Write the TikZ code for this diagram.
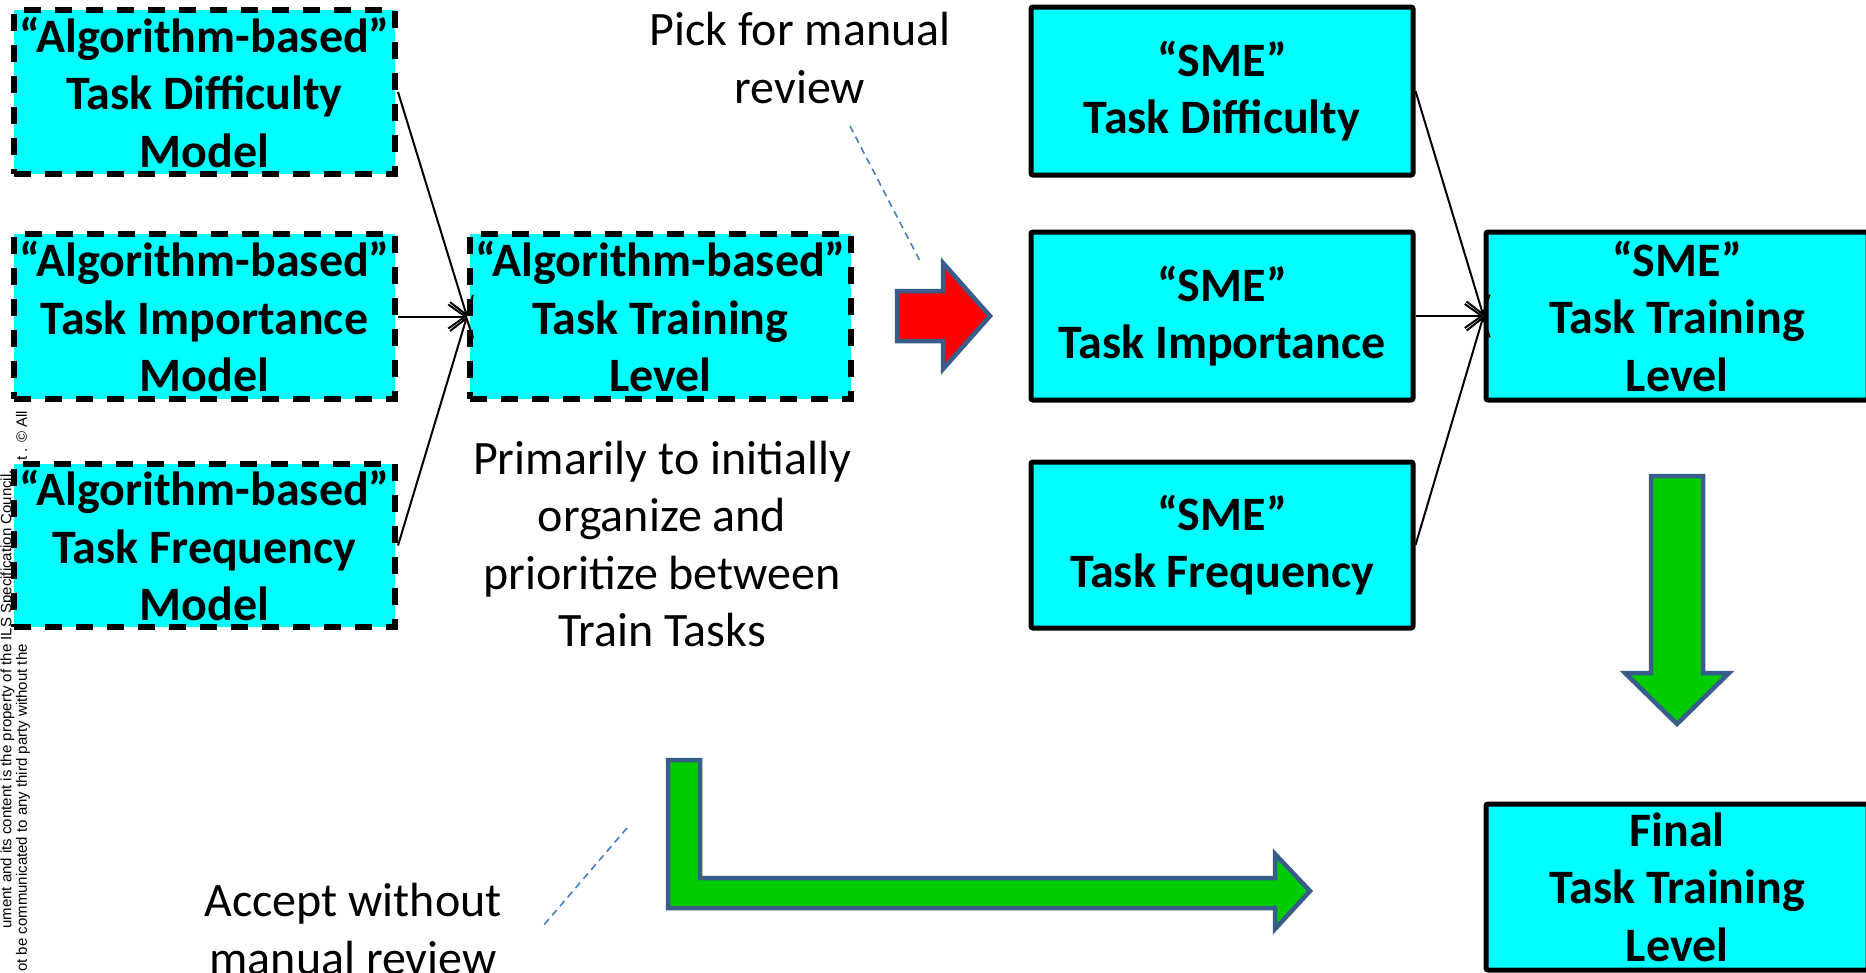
\documentclass[tikz,border=0pt]{standalone}
\usepackage{fontspec}
\setmainfont{Carlito}
\newfontfamily\notefont{Liberation Sans}
\usetikzlibrary{arrows.meta}

\begin{document}
\begin{tikzpicture}[x=1pt,y=-1pt,
    algobox/.style={shape=rectangle,draw,line width=6pt,dash pattern=on 17pt off 14pt,fill=boxcyan,minimum width=381pt,inner sep=0pt,align=center,font=\bfseries\fontsize{48}{57.5}\selectfont},
    smebox/.style={shape=rectangle,draw,line width=5pt,rounded corners=2pt,fill=boxcyan,minimum width=382pt,inner sep=0pt,align=center,font=\bfseries\fontsize{48}{57.5}\selectfont},
    note/.style={align=center,inner sep=0pt,font=\fontsize{48}{57.5}\selectfont},
    link/.style={-{Straight Barb[length=17pt,width=24pt]},line width=2pt},
    callout/.style={draw=calloutblue,line width=1.6pt,dash pattern=on 7pt off 5pt},
    blockarrow/.style={draw=arrowedge,line width=4.5pt,line join=miter},
    legal/.style={rotate=90,inner sep=0pt,font=\notefont\fontsize{15}{15}\selectfont}]
    \definecolor{boxcyan}{RGB}{0,255,255}
    \definecolor{arrowgreen}{RGB}{0,204,0}
    \definecolor{arrowred}{RGB}{255,0,0}
    \definecolor{arrowedge}{RGB}{56,93,138}
    \definecolor{calloutblue}{RGB}{74,126,187}
    \useasboundingbox (0,0) rectangle (1866,972);

    % notice along the left edge, partly under the boxes
    \node[legal,anchor=base east] (legala) at (11.5,470) {ument and its content is the property of the ILS Specification Council.};
    \node[legal,anchor=base west] (legalb) at (27,972) {ot be communicated to any third party without the};
    \node[legal,anchor=base west] (legalc) at (27,461) {t . © All};

    % algorithm side
    \node[algobox,minimum height=164pt] (algodiff)  at (204.5,92)  {“Algorithm-based”\\Task Difficulty\\Model};
    \node[algobox,minimum height=165pt] (algoimp)   at (204.5,316.5) {“Algorithm-based”\\Task Importance\\Model};
    \node[algobox,minimum height=163pt] (algofreq)  at (204.5,545.5) {“Algorithm-based”\\Task Frequency\\Model};
    \node[algobox,minimum height=165pt] (algotrain) at (660.5,316.5) {“Algorithm-based”\\Task Training\\Level};

    % SME side
    \node[smebox,minimum height=168pt] (smediff)  at (1222,91)  {“SME”\\Task Difficulty};
    \node[smebox,minimum height=168pt] (smeimp)   at (1222,316) {“SME”\\Task Importance};
    \node[smebox,minimum height=166pt] (smefreq)  at (1222,545) {“SME”\\Task Frequency};
    \node[smebox,minimum height=168pt] (smetrain) at (1677,316) {“SME”\\Task Training\\Level};
    \node[smebox,minimum height=166pt] (final)    at (1677,887) {Final\\Task Training\\Level};

    \draw[link] (algodiff.east) -- (algotrain.west);
    \draw[link] (algoimp.east)  -- (algotrain.west);
    \draw[link] (algofreq.east) -- (algotrain.west);
    \draw[link] (smediff.east)  -- (smetrain.west);
    \draw[link] (smeimp.east)   -- (smetrain.west);
    \draw[link] (smefreq.east)  -- (smetrain.west);

    % free text
    \node[note] (picknote)   at (800,58)  {Pick for manual\\review};
    \node[note] (primnote)   at (662,544) {Primarily to initially\\organize and\\prioritize between\\Train Tasks};
    \node[note] (acceptnote) at (353,929) {Accept without\\manual review};

    \coordinate (pickfrom) at (850,126);
    \coordinate (pickto) at (921,263);
    \draw[callout] (pickfrom) -- (pickto);
    \coordinate (acceptfrom) at (627,828);
    \coordinate (acceptto) at (543,926);
    \draw[callout] (acceptfrom) -- (acceptto);

    % block arrows
    \draw[blockarrow,fill=arrowred] (897,291) -- (943,291) -- (943,263) -- (990,316) -- (943,369) -- (943,341) -- (897,341) -- cycle;
    \draw[blockarrow,fill=arrowgreen] (1651,476) -- (1703,476) -- (1703,673) -- (1729,673) -- (1677,724) -- (1625,673) -- (1651,673) -- cycle;
    \draw[blockarrow,fill=arrowgreen] (668,760) -- (700,760) -- (700,878) -- (1275,878) -- (1275,854) -- (1310,891) -- (1275,929) -- (1275,908) -- (668,908) -- cycle;
\end{tikzpicture}
\end{document}
